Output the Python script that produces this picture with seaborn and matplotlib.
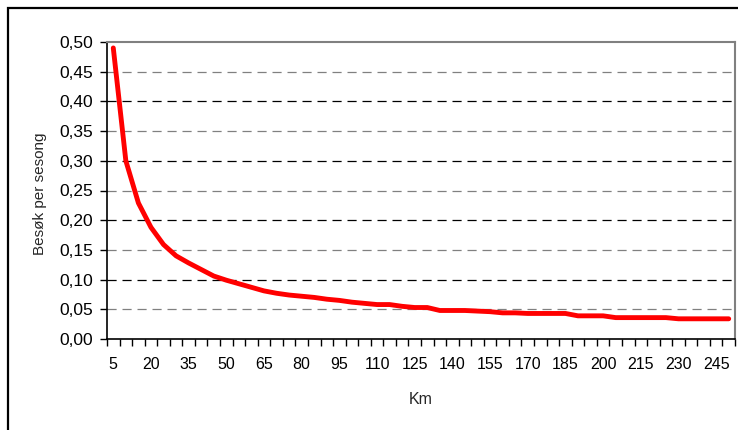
import matplotlib
matplotlib.use("Agg")
import matplotlib.pyplot as plt
import matplotlib.patches as mpatches
from matplotlib.ticker import MultipleLocator, FixedLocator, FuncFormatter
import seaborn as sns
import pandas as pd

km = list(range(5, 255, 5))
besok = [0.490, 0.300, 0.229, 0.188, 0.159, 0.140, 0.128, 0.117, 0.106, 0.099,
         0.093, 0.087, 0.081, 0.077, 0.074, 0.072, 0.070, 0.067, 0.065, 0.062,
         0.060, 0.058, 0.058, 0.055, 0.053, 0.053, 0.048, 0.048, 0.048, 0.047,
         0.046, 0.044, 0.044, 0.043, 0.043, 0.043, 0.043, 0.039, 0.039, 0.039,
         0.036, 0.036, 0.036, 0.036, 0.036, 0.034, 0.034, 0.034, 0.034, 0.034]
x_labels = list(range(5, 250, 15))
y_ticks = [i * 0.05 for i in range(11)]

df = pd.DataFrame({"Km": km, "Besøk per sesong": besok})

sns.set_style("white")
plt.rcParams["font.family"] = ["Liberation Sans", "DejaVu Sans"]

fig = plt.figure(figsize=(7.38, 4.30), dpi=100)
W, H = 738, 430
ax = fig.add_axes([107 / W, (H - 339) / H, (735 - 107) / W, (339 - 42) / H])

sns.lineplot(data=df, x="Km", y="Besøk per sesong", ax=ax, color="#ff0000",
             linewidth=3.5, solid_joinstyle="round", solid_capstyle="round")

ax.set_xlim(2.5, 252.5)
ax.set_ylim(0, 0.5)
ax.xaxis.set_major_locator(FixedLocator(x_labels))
ax.xaxis.set_minor_locator(MultipleLocator(5, offset=2.5))
ax.yaxis.set_major_locator(FixedLocator(y_ticks))
ax.yaxis.set_major_formatter(FuncFormatter(lambda v, p: f"{v:.2f}".replace(".", ",")))

ax.tick_params(axis="x", which="major", length=0, labelsize=11.5, pad=13, colors="black")
ax.tick_params(axis="x", which="minor", length=5, width=1, direction="out", bottom=True, color="black")
ax.tick_params(axis="y", which="major", length=5, width=1, direction="out", left=True,
               labelsize=12.5, pad=5, colors="black")

ax.set_xlabel("Km", fontsize=11.5, labelpad=14)
ax.set_ylabel("Besøk per sesong", fontsize=11, va="center")
ax.yaxis.set_label_coords((40 - 107) / 628, (339 - 194) / 297)

ax.yaxis.grid(True, linestyle=(0, (7.3, 4.7)), linewidth=0.9)
for i, gl in enumerate(ax.get_ygridlines()):
    gl.set_color("#000000" if i % 2 == 0 else "#808080")
    if i == 0 or i == len(y_ticks) - 1:
        gl.set_visible(False)
ax.xaxis.grid(False)

for s in ["left", "bottom"]:
    ax.spines[s].set_color("black")
    ax.spines[s].set_linewidth(1.2)
for s in ["top", "right"]:
    ax.spines[s].set_color("#808080")
    ax.spines[s].set_linewidth(1.5)
    ax.spines[s].set_visible(True)

frame = mpatches.Rectangle((7.5 / W, -0.2), 1.2, (H - 7.5) / H + 0.2,
                           transform=fig.transFigure, fill=False,
                           edgecolor="black", linewidth=1.6, clip_on=False)
fig.patches.append(frame)

fig.savefig("out.png", dpi=100)
